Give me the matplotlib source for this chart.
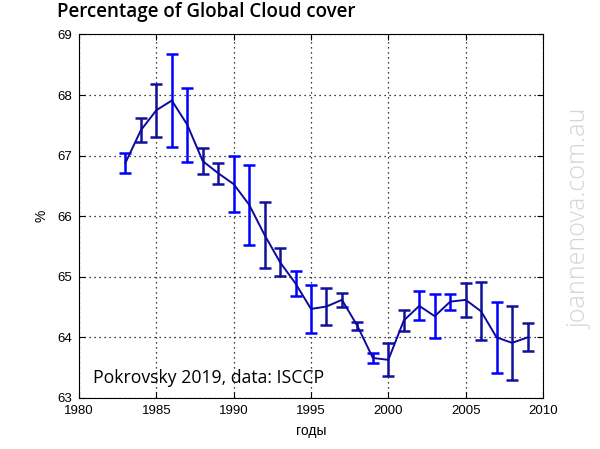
import numpy as np
import matplotlib
matplotlib.use("Agg")
import matplotlib.pyplot as plt

# Global cloud cover, ISCCP
years = list(range(1983, 2010))
cover = [66.88, 67.42, 67.75, 67.91, 67.51, 66.91, 66.71, 66.53, 66.19,
         65.69, 65.24, 64.89, 64.47, 64.51, 64.62, 64.19, 63.66, 63.63,
         64.28, 64.52, 64.35, 64.59, 64.62, 64.43, 64.00, 63.91, 64.00]
err = [0.16, 0.20, 0.44, 0.77, 0.61, 0.21, 0.17, 0.46, 0.66,
       0.54, 0.23, 0.20, 0.40, 0.31, 0.11, 0.06, 0.09, 0.27,
       0.17, 0.24, 0.36, 0.13, 0.28, 0.48, 0.58, 0.61, 0.23]

# jpeg-ish look of the original: some bars appear lighter, some darker
BLUE, NAVY = '#0000ff', '#10109a'
bar_colors = [BLUE, NAVY, NAVY, BLUE, BLUE, NAVY, NAVY, BLUE, BLUE,
              NAVY, NAVY, BLUE, BLUE, NAVY, NAVY, NAVY, BLUE, NAVY,
              NAVY, BLUE, BLUE, BLUE, NAVY, NAVY, BLUE, NAVY, NAVY]

fig = plt.figure(figsize=(6, 4.49), dpi=100)
ax = fig.add_axes([0.1317, 0.1136, 0.7733, 0.8096])

for x, y, e, c in zip(years, cover, err, bar_colors):
    ax.errorbar(x, y, yerr=e, fmt='none', ecolor=c, elinewidth=1.8,
                capsize=4, capthick=1.8, zorder=3)
ax.plot(years, cover, color='#0a0aa0', linewidth=1.4, zorder=4)

ax.set_xlim(1980, 2010)
ax.set_ylim(63, 69)
ax.set_xticks(range(1980, 2011, 5))
ax.set_yticks(range(63, 70))
ax.grid(True, linestyle=(0, (1, 3)), color='black', linewidth=0.9)
ax.tick_params(direction='in', top=True, right=True, labelsize=9.5,
               length=4, width=0.8, pad=5)
for lbl in ax.get_xticklabels() + ax.get_yticklabels():
    lbl.set_family('Liberation Sans')
for s in ax.spines.values():
    s.set_linewidth(0.8)

ax.set_xlabel('годы', fontsize=10, family='Liberation Sans', labelpad=5)
ax.set_ylabel('%', fontsize=10, family='Liberation Sans', labelpad=6)

fig.text(0.095, 0.973, 'Percentage of Global Cloud cover', fontsize=13.5,
         family='Open Sans', weight='semibold', va='center', ha='left')
ax.text(0.03, 0.055, 'Pokrovsky 2019, data: ISCCP', transform=ax.transAxes,
        fontsize=12.7, family='Open Sans', ha='left', va='center')
fig.text(0.966, 0.513, 'joannenova.com.au', rotation=90, fontsize=18,
         family='Open Sans', weight='light', color='#d4d4d4',
         ha='center', va='center')

fig.savefig('out.png', dpi=100)
